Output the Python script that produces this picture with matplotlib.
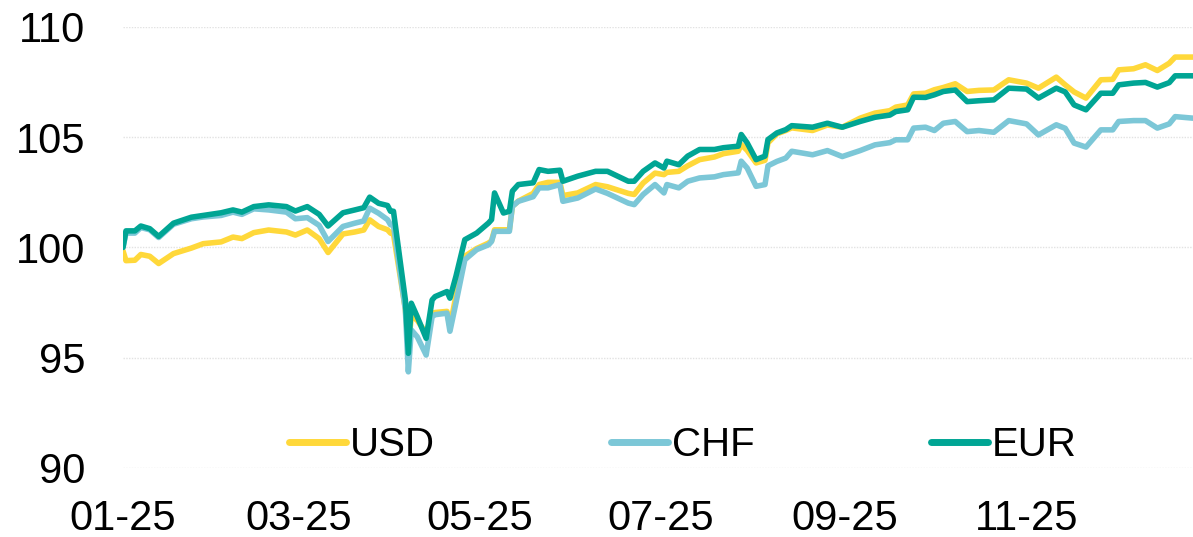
import matplotlib
matplotlib.use("Agg")
import matplotlib.pyplot as plt
import matplotlib.dates as mdates
import pandas as pd

plt.rcParams['font.family'] = ['Liberation Sans', 'DejaVu Sans']

dates = ["2025-01-01", "2025-01-02", "2025-01-05", "2025-01-07", "2025-01-10", "2025-01-13",
         "2025-01-18", "2025-01-24", "2025-01-28", "2025-02-03", "2025-02-07", "2025-02-10",
         "2025-02-14", "2025-02-19", "2025-02-25", "2025-02-28", "2025-03-04", "2025-03-08",
         "2025-03-11", "2025-03-16", "2025-03-20", "2025-03-23", "2025-03-25", "2025-03-28",
         "2025-03-31", "2025-04-01", "2025-04-02", "2025-04-06", "2025-04-07", "2025-04-08",
         "2025-04-10", "2025-04-13", "2025-04-15", "2025-04-16", "2025-04-20", "2025-04-21",
         "2025-04-23", "2025-04-26", "2025-04-30", "2025-05-04", "2025-05-05", "2025-05-06",
         "2025-05-09", "2025-05-11", "2025-05-12", "2025-05-14", "2025-05-19", "2025-05-21",
         "2025-05-24", "2025-05-28", "2025-05-29", "2025-06-03", "2025-06-09", "2025-06-13",
         "2025-06-20", "2025-06-22", "2025-06-25", "2025-06-29", "2025-07-02", "2025-07-03",
         "2025-07-07", "2025-07-10", "2025-07-14", "2025-07-19", "2025-07-22", "2025-07-27",
         "2025-07-28", "2025-07-30", "2025-08-02", "2025-08-05", "2025-08-06", "2025-08-09",
         "2025-08-12", "2025-08-14", "2025-08-21", "2025-08-26", "2025-08-31", "2025-09-06",
         "2025-09-11", "2025-09-16", "2025-09-18", "2025-09-22", "2025-09-24", "2025-09-28",
         "2025-10-01", "2025-10-04", "2025-10-08", "2025-10-12", "2025-10-16", "2025-10-21",
         "2025-10-26", "2025-11-01", "2025-11-05", "2025-11-11", "2025-11-14", "2025-11-17",
         "2025-11-21", "2025-11-26", "2025-11-30", "2025-12-02", "2025-12-07", "2025-12-11",
         "2025-12-15", "2025-12-19", "2025-12-21", "2025-12-27"]

eur = [100.00, 100.75, 100.75, 100.97, 100.85, 100.50, 101.10, 101.37, 101.45, 101.57, 101.70, 101.60,
       101.85, 101.93, 101.85, 101.65, 101.85, 101.50, 100.97, 101.57, 101.70, 101.80, 102.28, 102.00,
       101.90, 101.64, 101.64, 97.62, 95.20, 97.47, 96.86, 95.88, 97.62, 97.77, 98.00, 97.70,
       98.68, 100.35, 100.65, 101.11, 101.26, 102.47, 101.56, 101.64, 102.55, 102.85, 102.93, 103.53,
       103.45, 103.50, 103.00, 103.23, 103.45, 103.45, 103.00, 103.00, 103.45, 103.83, 103.60, 103.91,
       103.75, 104.14, 104.44, 104.44, 104.52, 104.59, 105.12, 104.74, 103.98, 104.14, 104.89, 105.19,
       105.34, 105.52, 105.45, 105.63, 105.45, 105.71, 105.90, 106.00, 106.16, 106.24, 106.81, 106.80,
       106.92, 107.07, 107.14, 106.61, 106.65, 106.69, 107.22, 107.18, 106.77, 107.22, 107.05, 106.46,
       106.24, 106.99, 106.99, 107.37, 107.45, 107.48, 107.27, 107.47, 107.78, 107.78]

usd = [99.85, 99.40, 99.42, 99.68, 99.60, 99.27, 99.72, 99.97, 100.17, 100.25, 100.47, 100.40,
       100.67, 100.79, 100.70, 100.56, 100.79, 100.40, 99.77, 100.61, 100.70, 100.79, 101.25, 100.95,
       100.80, 100.65, 100.60, 97.20, 95.40, 96.90, 96.70, 96.10, 97.00, 97.05, 97.10, 96.40,
       97.80, 99.60, 99.95, 100.20, 100.30, 100.80, 100.80, 100.80, 101.86, 102.10, 102.45, 102.85,
       102.95, 102.95, 102.35, 102.47, 102.85, 102.75, 102.45, 102.40, 102.92, 103.37, 103.30, 103.40,
       103.45, 103.70, 103.98, 104.10, 104.25, 104.36, 104.66, 104.40, 103.83, 103.95, 104.74, 105.15,
       105.30, 105.42, 105.30, 105.55, 105.45, 105.86, 106.09, 106.20, 106.36, 106.46, 106.96, 106.99,
       107.15, 107.25, 107.42, 107.07, 107.12, 107.14, 107.60, 107.45, 107.22, 107.72, 107.37, 107.05,
       106.77, 107.60, 107.62, 108.05, 108.10, 108.28, 108.02, 108.35, 108.63, 108.63]

chf = [100.00, 100.65, 100.65, 100.90, 100.80, 100.45, 101.05, 101.30, 101.38, 101.45, 101.60, 101.50,
       101.75, 101.70, 101.60, 101.30, 101.35, 101.00, 100.27, 100.95, 101.10, 101.20, 101.78, 101.55,
       101.26, 101.03, 101.00, 97.17, 94.36, 96.26, 95.95, 95.12, 96.86, 96.95, 97.02, 96.20,
       97.47, 99.44, 99.90, 100.12, 100.27, 100.73, 100.73, 100.73, 101.86, 102.09, 102.30, 102.70,
       102.70, 102.85, 102.09, 102.24, 102.65, 102.45, 102.01, 101.94, 102.40, 102.85, 102.47, 102.85,
       102.70, 103.00, 103.15, 103.20, 103.30, 103.38, 103.91, 103.60, 102.77, 102.85, 103.70, 103.90,
       104.05, 104.36, 104.20, 104.39, 104.12, 104.39, 104.65, 104.75, 104.88, 104.88, 105.41, 105.45,
       105.30, 105.63, 105.71, 105.25, 105.30, 105.22, 105.75, 105.60, 105.10, 105.56, 105.40, 104.73,
       104.55, 105.33, 105.33, 105.71, 105.75, 105.75, 105.41, 105.60, 105.93, 105.86]

series_names = ["USD", "CHF", "EUR"]
series_colors = ["#FFD83A", "#7CC7D7", "#00A594"]

x_ticks = ["2025-01-01", "2025-03-01", "2025-05-01", "2025-07-01", "2025-09-01", "2025-11-01"]
y_ticks = [90, 95, 100, 105, 110]

x = pd.to_datetime(dates)

fig = plt.figure(figsize=(11.93, 5.37), dpi=100)
ax = fig.add_axes([0.1031, 0.1285, 0.8969, 0.8215])

for name, vals, col in zip(series_names, [usd, chf, eur], series_colors):
    ax.plot(x, vals, color=col, lw=4.0, label=name, solid_joinstyle='round', solid_capstyle='round')

ax.set_ylim(90, 110)
ax.set_xlim(pd.Timestamp("2025-01-01"), pd.Timestamp("2025-12-27"))
ax.set_yticks(y_ticks)
ax.set_xticks(pd.to_datetime(x_ticks))
ax.xaxis.set_major_formatter(mdates.DateFormatter("%m-%y"))

for s in ax.spines.values():
    s.set_visible(False)
ax.grid(axis='y', color='#E2E2E2', lw=1.0, linestyle=(0, (1, 1)))
ax.grid(axis='x', visible=False)
ax.set_axisbelow(True)
ax.tick_params(axis='both', length=0, labelsize=30, colors='black')
ax.tick_params(axis='y', pad=27)
ax.tick_params(axis='x', pad=22)

leg = fig.legend(loc='center', bbox_to_anchor=(0.5725, 0.171), ncol=3, frameon=False,
                 fontsize=29, handlelength=1.42, handletextpad=0.1, columnspacing=4.37,
                 borderaxespad=0, borderpad=0)
for h in leg.get_lines():
    h.set_linewidth(5)

fig.savefig("out.png", dpi=100)
